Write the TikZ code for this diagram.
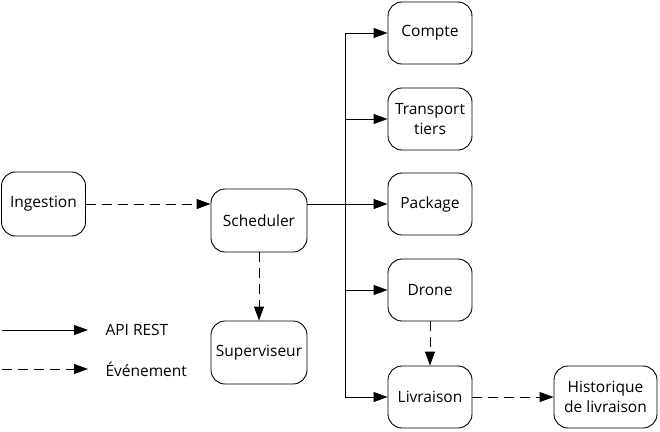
\documentclass[tikz,border=0pt]{standalone}
\usepackage{fontspec}
\setmainfont{Open Sans}
\usetikzlibrary{arrows.meta}
\begin{document}
\begin{tikzpicture}[x=1pt,y=-1pt,
  box/.style={draw, line width=0.9pt, rounded corners=14pt, align=center, inner sep=0pt, font=\fontsize{15.5}{20}\selectfont},
  api/.style={line width=0.9pt, -{Triangle[length=14pt,width=10pt]}},
  evt/.style={api, dash pattern=on 10pt off 6pt},
  lbl/.style={anchor=west, font=\fontsize{15.5}{20}\selectfont}]
\useasboundingbox (0,0) rectangle (660,431);
\node[box, minimum width=84pt, minimum height=64pt] (ing) at (43.5,204) {Ingestion};
\node[box, minimum width=96pt, minimum height=63pt] (sch) at (259,220.5) {Scheduler};
\node[box, minimum width=96pt, minimum height=63pt] (sup) at (259,352.5) {Superviseur};
\node[box, minimum width=84pt, minimum height=62pt] (cpt) at (430,33) {Compte};
\node[box, minimum width=84pt, minimum height=62pt] (trp) at (430,119) {Transport\\tiers};
\node[box, minimum width=84pt, minimum height=62pt] (pkg) at (430,204) {Package};
\node[box, minimum width=84pt, minimum height=62pt] (drn) at (430,290) {Drone};
\node[box, minimum width=84pt, minimum height=62pt] (liv) at (430,397) {Livraison};
\node[box, minimum width=103pt, minimum height=62pt] (his) at (605.5,397) {Historique\\de livraison};
\coordinate (bx) at (345,204);
\draw[evt] (ing.east) -- (ing.east -| sch.west);
\draw[api] (sch.east |- pkg.west) -- (pkg.west);
\draw[api] (bx) |- (cpt.west);
\draw[api] (bx) |- (trp.west);
\draw[api] (bx) |- (drn.west);
\draw[api] (bx) |- (liv.west);
\draw[evt] (sch.south) -- (sup.north);
\draw[evt] (drn.south) -- (liv.north);
\draw[evt] (liv.east) -- (his.west);
\coordinate (la) at (2,330);
\coordinate (lb) at (88,330);
\coordinate (lc) at (2,369);
\coordinate (ld) at (88,369);
\draw[api] (la) -- (lb);
\draw[evt] (lc) -- (ld);
\node[lbl] (t1) at (102,330) {API REST};
\node[lbl] (t2) at (102,369) {Événement};
\end{tikzpicture}
\end{document}
